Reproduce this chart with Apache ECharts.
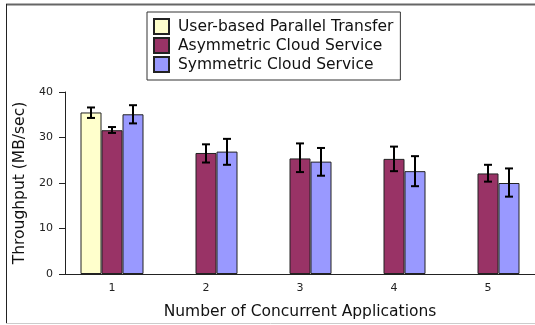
<!DOCTYPE html>
<html>
<head>
<meta charset="utf-8">
<script src="https://cdn.jsdelivr.net/npm/echarts@6/dist/echarts.min.js"></script>
<style>
  html, body { margin: 0; padding: 0; background: #fff; }
  #chart { width: 535px; height: 325px; }
</style>
</head>
<body>
<div id="chart"></div>
<script>
// categories and bar heights
const categories = ['1', '2', '3', '4', '5'];
const userBased = [35.5, null, null, null, null];
const asymmetric = [31.6, 26.6, 25.4, 25.3, 22.1];
const symmetric = [35.1, 26.9, 24.7, 22.6, 20.0];

// error bar ends (low / high)
const userLow = [34.3, null, null, null, null];
const userHigh = [36.6, null, null, null, null];
const asymLow = [31.0, 24.5, 22.4, 22.6, 20.3];
const asymHigh = [32.3, 28.5, 28.7, 28.0, 24.0];
const symLow = [33.1, 24.0, 21.6, 19.3, 17.0];
const symHigh = [37.1, 29.7, 27.7, 25.9, 23.2];

const yTicks = [0, 10, 20, 30, 40];

const names = ['User-based Parallel Transfer', 'Asymmetric Cloud Service', 'Symmetric Cloud Service'];
const colors = ['#ffffcc', '#993366', '#9999ff'];
const BAR_W = 21;

function errData(low, high) {
  const out = [];
  low.forEach((l, i) => {
    if (l != null) out.push([i, l, high[i]]);
  });
  return out;
}

// draws one error bar, shifted onto its bar in the group
function errRender(slot) {
  return function (params, api) {
    const c = api.value(0);
    const lo = api.coord([c, api.value(1)]);
    const hi = api.coord([c, api.value(2)]);
    const x = lo[0] + (slot - 1) * BAR_W;
    const cap = 4;
    const style = { stroke: '#000', lineWidth: 2 };
    return {
      type: 'group',
      children: [
        { type: 'line', shape: { x1: x, y1: lo[1], x2: x, y2: hi[1] }, style },
        { type: 'line', shape: { x1: x - cap, y1: lo[1], x2: x + cap, y2: lo[1] }, style },
        { type: 'line', shape: { x1: x - cap, y1: hi[1], x2: x + cap, y2: hi[1] }, style }
      ]
    };
  };
}

const chart = echarts.init(document.getElementById('chart'));
const font = 'DejaVu Sans';

const barSeries = [userBased, asymmetric, symmetric].map((d, i) => ({
  name: names[i],
  type: 'bar',
  data: d,
  barWidth: BAR_W,
  barGap: '0%',
  itemStyle: { color: colors[i], borderColor: '#222', borderWidth: 1 },
  emphasis: { disabled: true }
}));

const errSeries = [[userLow, userHigh], [asymLow, asymHigh], [symLow, symHigh]].map((p, i) => ({
  type: 'custom',
  renderItem: errRender(i),
  data: errData(p[0], p[1]),
  z: 5,
  silent: true
}));

chart.setOption({
  animation: false,
  textStyle: { fontFamily: font },
  graphic: [
    { type: 'line', shape: { x1: 6, y1: 4.5, x2: 535, y2: 4.5 }, style: { stroke: '#666', lineWidth: 2 } },
    { type: 'line', shape: { x1: 6.5, y1: 4, x2: 6.5, y2: 324 }, style: { stroke: '#222', lineWidth: 1 } },
    { type: 'line', shape: { x1: 6, y1: 323.5, x2: 535, y2: 323.5 }, style: { stroke: '#ccc', lineWidth: 1 } }
  ],
  legend: {
    data: names,
    orient: 'vertical',
    left: 147,
    top: 12,
    icon: 'rect',
    itemWidth: 15,
    itemHeight: 15,
    itemGap: 2,
    padding: [6, 7, 7, 6],
    borderColor: '#333',
    borderWidth: 1,
    backgroundColor: '#fff',
    textStyle: { fontFamily: font, fontSize: 15.5, lineHeight: 15, color: '#111', padding: [0, 0, 0, 4] }
  },
  grid: { left: 65, right: 0, top: 92, bottom: 50 },
  xAxis: {
    type: 'category',
    data: categories,
    name: 'Number of Concurrent Applications',
    nameLocation: 'middle',
    nameGap: 30,
    nameTextStyle: { fontFamily: font, fontSize: 15.5, color: '#111' },
    axisLine: { lineStyle: { color: '#222', width: 1 } },
    axisTick: { length: 5, lineStyle: { color: '#222' } },
    axisLabel: { fontFamily: font, fontSize: 11, color: '#222', margin: 9 }
  },
  yAxis: {
    type: 'value',
    min: yTicks[0],
    max: yTicks[yTicks.length - 1],
    interval: 10,
    name: 'Throughput (MB/sec)',
    nameLocation: 'middle',
    nameGap: 33,
    nameTextStyle: { fontFamily: font, fontSize: 15.5, color: '#111' },
    axisLine: { show: true, lineStyle: { color: '#222', width: 1 } },
    axisTick: { show: true, length: 6, lineStyle: { color: '#222' } },
    axisLabel: { fontFamily: font, fontSize: 11, color: '#222', margin: 12 },
    splitLine: { show: false }
  },
  series: barSeries.concat(errSeries)
});
</script>
</body>
</html>
